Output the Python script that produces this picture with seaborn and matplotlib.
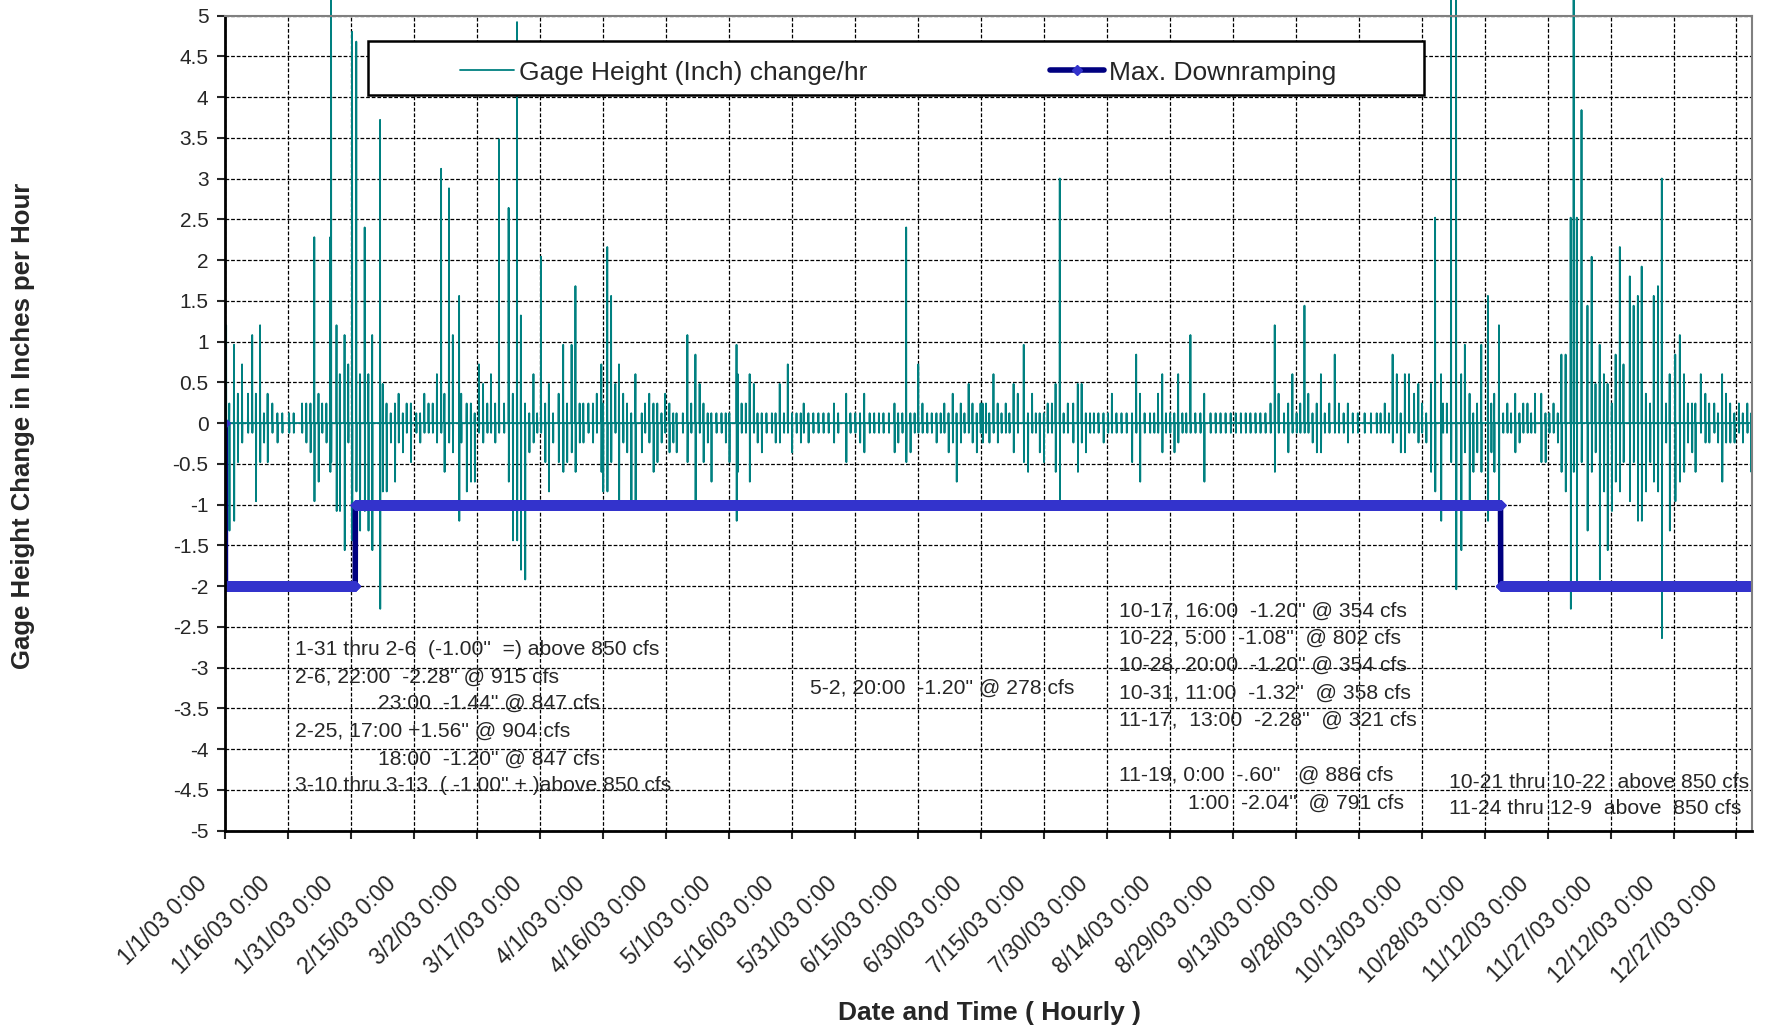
import numpy as np
import pandas as pd
import matplotlib
matplotlib.use("Agg")
import matplotlib.pyplot as plt
import matplotlib.transforms as mtransforms
from matplotlib.lines import Line2D
from matplotlib.patches import Rectangle
import seaborn as sns

# hourly record starting 1/1/03 0:00 (flat 0 between the spikes)
n_hours = 8730
start = pd.Timestamp("2003-01-01 00:00")

# spikes: day of year, rise and the drop that follows (inches/hr)
spike_day = [
    0.2, 0.96, 2.07, 3.0, 4.0, 5.4, 6.4, 7.3, 8.3, 9.2,
    10.1, 11.2, 12.4, 13.6, 15.2, 16.3, 18.3, 19.3, 20.3, 21.2,
    22.2, 23.1, 24.1, 25.0, 25.2, 26.5, 27.3, 28.4, 29.3, 30.2,
    31.2, 32.1, 33.2, 34.1, 35.0, 36.875, 37.5, 38.4, 39.4, 40.4,
    41.3, 42.3, 43.2, 44.2, 45.5, 46.4, 47.4, 48.4, 49.4, 50.4,
    51.4, 52.2, 53.3, 54.2, 55.7, 56.2, 57.5, 58.5, 59.4, 60.4,
    61.4, 62.4, 63.3, 64.3, 65.2, 66.4, 67.5, 68.5, 69.5, 70.4,
    71.4, 72.4, 73.4, 74.3, 75.2, 76.2, 77.1, 78.1, 79.4, 80.5,
    81.4, 82.5, 83.4, 84.4, 85.3, 86.5, 87.6, 88.5, 89.6,
    90.0, 91.0, 91.9, 92.9, 93.8, 94.8, 95.7, 96.7, 97.7, 99.2,
    100.0, 101.0, 102.0, 102.9, 103.9, 104.8, 105.8, 106.7, 107.5, 109.0,
    110.1, 111.0, 112.0, 113.0, 113.9, 114.9, 115.8, 117.0, 118.2, 119.2,
    120.1, 121.79, 122.1, 123.0, 124.0, 124.9, 125.9, 126.8, 127.8, 128.9,
    130.2, 131.1, 132.1, 133.1, 134.0, 135.0, 136.1, 137.1, 137.8, 138.9,
    140.1, 141.3, 142.5, 143.7, 145.0, 146.0, 147.9, 148.9, 150.1, 151.2,
    152.2, 153.5, 154.6, 155.7, 156.8, 158.1, 159.4, 160.3, 161.3, 162.2,
    163.2, 164.2, 165.1, 166.1, 167.2, 168.3, 169.4, 170.4, 171.3, 172.3,
    173.3, 174.2, 175.2, 176.1, 177.1, 178.0, 179.0, 179.9,
    180.4, 181.2, 182.0, 183.0, 184.0, 184.9, 185.9, 186.8, 187.8, 188.8,
    190.2, 191.2, 192.2, 193.1, 194.0, 195.0, 195.9, 196.9, 197.8, 198.8,
    199.7, 200.7, 202.0, 203.1, 204.0, 205.0, 206.0, 206.9, 208.0, 209.2,
    210.3, 211.2, 212.3, 213.5, 214.7, 216.0, 217.0, 217.9, 219.0, 220.3,
    221.3, 222.2, 223.2, 224.1, 225.1, 226.1, 227.0, 228.0, 228.9, 229.9,
    231.1, 232.3, 233.2, 234.7, 235.9, 237.1, 238.3, 239.5, 240.7, 241.9,
    243.1, 244.2, 245.4, 246.6, 247.8, 249.0, 250.0, 250.9, 252.2, 253.2,
    254.2, 255.2, 256.1, 257.1, 258.0, 259.0, 260.0, 261.0, 261.9, 263.0,
    264.3, 265.3, 266.4, 267.4, 268.6, 269.8, 271.4,
    272.9, 274.3, 275.2, 276.2, 277.2, 278.1, 279.1, 280.0, 281.0, 282.0,
    283.2, 284.2, 285.1, 286.1, 287.2, 288.2, 289.63, 290.1, 291.0, 292.0,
    293.2, 294.4, 295.3, 296.4, 297.3, 298.2, 299.2, 300.79, 301.6, 302.3,
    303.42, 304.4, 305.4, 306.3, 307.3, 308.3, 309.2, 310.2, 311.1, 312.0,
    313.5, 314.5, 315.4, 316.4, 317.4, 318.3, 319.3, 320.5, 321.2, 321.96,
    323.1, 324.5, 325.5, 326.4, 327.4, 328.4, 329.3, 330.3, 331.2, 332.2,
    333.1, 334.6, 335.5, 336.5, 337.4, 338.4, 339.4, 340.3, 341.3, 342.2,
    343.2, 344.1, 345.4, 346.5, 347.5, 348.4, 349.4, 350.2, 351.5, 352.6,
    353.5, 354.7, 355.6, 356.6, 357.5, 358.5, 359.5, 360.6, 361.5, 362.6,
    363.5,
]
spike_up = [
    1.2, 0.24, 0.96, 0.36, 0.72, 0.36, 1.08, 0.36, 1.2, 0.12,
    0.36, 0.24, 0.12, 0.12, 0.12, 0.12, 0.24, 0.24, 0.24, 2.28,
    0.36, 0.24, 0.24, 2.28, 5.4, 1.2, 0.6, 1.08, 0.72, 4.8,
    4.68, 0.6, 2.4, 0.6, 1.08, 3.72, 0.48, 0.24, 0.12, 0.24,
    0.36, 0.12, 0.24, 0.24, 0.12, 0.12, 0.36, 0.24, 0.24, 0.6,
    3.12, 0.36, 2.88, 1.08, 1.56, 0.36, 0.24, 0.24, 0.12, 0.72,
    0.48, 0.24, 0.6, 0.24, 3.48, 0.24, 2.64, 0.36, 4.92, 1.32,
    0.24, 0.12, 0.6, 0.12, 2.04, 0.24, 0.48, 0.12, 0.36, 0.96,
    0.24, 0.96, 1.68, 0.24, 0.24, 0.24, 0.24, 0.36, 0.72,
    0.24, 2.16, 1.56, 0.48, 0.72, 0.36, 0.24, 0.12, 0.6, 0.12,
    0.24, 0.36, 0.24, 0.24, 0.12, 0.36, 0.24, 0.12, 0.12, 0.12,
    1.08, 0.24, 0.84, 0.48, 0.24, 0.12, 0.12, 0.12, 0.12, 0.12,
    0.12, 0.96, 0.6, 0.24, 0.24, 0.6, 0.48, 0.12, 0.12, 0.12,
    0.12, 0.12, 0.48, 0.12, 0.72, 0.12, 0.12, 0.12, 0.24, 0.12,
    0.12, 0.12, 0.12, 0.12, 0.24, 0.12, 0.36, 0.12, 0.12, 0.12,
    0.36, 0.12, 0.12, 0.12, 0.12, 0.12, 0.24, 0.12, 0.12, 2.4,
    0.12, 0.12, 0.72, 0.24, 0.12, 0.12, 0.12, 0.12, 0.24, 0.12,
    0.36, 0.12, 0.24, 0.12, 0.48, 0.24, 0.12, 0.24,
    0.24, 0.24, 0.12, 0.6, 0.24, 0.12, 0.24, 0.12, 0.48, 0.36,
    0.96, 0.12, 0.36, 0.12, 0.12, 0.12, 0.24, 0.24, 0.48, 3.0,
    0.12, 0.24, 0.24, 0.48, 0.48, 0.12, 0.12, 0.12, 0.12, 0.12,
    0.12, 0.36, 0.12, 0.12, 0.12, 0.12, 0.84, 0.36, 0.12, 0.12,
    0.12, 0.36, 0.6, 0.12, 0.12, 0.12, 0.6, 0.12, 0.12, 1.08,
    0.12, 0.12, 0.36, 0.12, 0.12, 0.12, 0.12, 0.12, 0.12, 0.12,
    0.12, 0.12, 0.12, 0.12, 0.12, 0.24, 1.2, 0.36, 0.12, 0.24,
    0.6, 0.12, 0.24, 1.44, 0.36, 0.12, 0.24, 0.6, 0.12, 0.24,
    0.84, 0.24, 0.12, 0.24, 0.12, 0.12, 0.12,
    0.12, 0.12, 0.12, 0.24, 0.12, 0.84, 0.6, 0.12, 0.6, 0.6,
    0.36, 0.48, 0.24, 0.12, 0.48, 2.52, 0.6, 0.24, 0.24, 5.4,
    5.4, 0.6, 0.96, 0.36, 0.12, 0.24, 0.96, 1.56, 0.24, 0.36,
    1.2, 0.12, 0.24, 0.12, 0.36, 0.12, 0.24, 0.24, 0.12, 0.36,
    0.36, 0.12, 0.12, 0.24, 0.12, 0.84, 0.84, 2.52, 5.4, 2.52,
    3.84, 1.44, 2.04, 0.48, 0.96, 0.6, 0.48, 0.24, 0.84, 2.16,
    0.72, 1.8, 1.44, 1.56, 1.92, 0.36, 0.24, 1.56, 1.68, 3.0,
    0.24, 0.6, 0.84, 1.08, 0.6, 0.24, 0.24, 0.24, 0.6, 0.36,
    0.24, 0.24, 0.12, 0.6, 0.36, 0.24, 0.12, 0.24, 0.12, 0.24,
    0.12,
]
spike_down = [
    -0.36, -1.32, -1.2, -0.48, -0.24, -0.12, -0.12, -0.96, -0.48, -0.24,
    -0.48, -0.12, -0.24, -0.12, -0.12, -0.12, -0.12, -0.24, -0.36, -0.96,
    -0.72, -0.12, -0.24, -0.6, -0.48, -1.08, -1.08, -1.56, -0.24, -1.44,
    -0.84, -1.32, -1.08, -1.32, -1.56, -2.28, -0.84, -0.84, -0.24, -0.72,
    -0.24, -0.36, -0.12, -0.48, -0.12, -0.24, -0.12, -0.12, -0.12, -0.24,
    -0.12, -0.6, -0.24, -0.36, -1.2, -0.24, -0.84, -0.72, -0.72, -0.12,
    -0.24, -0.12, -0.12, -0.24, -0.12, -0.12, -0.72, -1.44, -1.44, -1.8,
    -1.92, -0.36, -0.24, -0.12, -0.12, -0.48, -0.84, -0.24, -0.48, -0.6,
    -0.48, -0.36, -0.6, -0.24, -0.24, -0.12, -0.24, -0.12, -0.6,
    -0.84, -0.84, -0.48, -0.12, -0.96, -0.24, -0.36, -0.96, -0.96, -0.36,
    -0.12, -0.24, -0.6, -0.48, -0.24, -0.12, -0.36, -0.24, -0.36, -0.12,
    -0.48, -0.12, -0.96, -0.12, -0.48, -0.24, -0.72, -0.12, -0.12, -0.24,
    -0.48, -1.2, -0.6, -0.12, -0.12, -0.72, -0.12, -0.24, -0.36, -0.12,
    -0.12, -0.24, -0.24, -0.12, -0.12, -0.36, -0.12, -0.24, -0.12, -0.24,
    -0.12, -0.12, -0.12, -0.12, -0.24, -0.12, -0.48, -0.12, -0.12, -0.24,
    -0.36, -0.12, -0.12, -0.12, -0.12, -0.12, -0.36, -0.24, -0.12, -0.48,
    -0.36, -0.12, -0.12, -0.12, -0.12, -0.12, -0.24, -0.12, -0.12, -0.36,
    -0.24, -0.72, -0.24, -0.12, -0.12, -0.24, -0.36, -0.12,
    -0.24, -0.12, -0.24, -0.12, -0.24, -0.12, -0.12, -0.12, -0.36, -0.12,
    -0.48, -0.6, -0.12, -0.12, -0.36, -0.48, -0.12, -0.12, -0.6, -0.96,
    -0.12, -0.12, -0.24, -0.6, -0.24, -0.36, -0.12, -0.12, -0.12, -0.24,
    -0.12, -0.12, -0.12, -0.12, -0.12, -0.48, -0.12, -0.72, -0.12, -0.12,
    -0.12, -0.12, -0.36, -0.12, -0.12, -0.36, -0.24, -0.12, -0.12, -0.12,
    -0.12, -0.12, -0.72, -0.12, -0.12, -0.12, -0.12, -0.12, -0.12, -0.12,
    -0.12, -0.12, -0.12, -0.12, -0.12, -0.12, -0.6, -0.12, -0.12, -0.36,
    -0.12, -0.12, -0.12, -0.12, -0.12, -0.24, -0.36, -0.36, -0.12, -0.12,
    -0.12, -0.12, -0.12, -0.24, -0.12, -0.12, -0.12,
    -0.12, -0.12, -0.12, -0.12, -0.12, -0.24, -0.12, -0.36, -0.36, -0.12,
    -0.12, -0.24, -0.12, -0.24, -0.6, -0.84, -1.2, -0.12, -0.12, -0.48,
    -2.04, -1.56, -0.36, -0.96, -0.6, -0.36, -0.6, -1.2, -0.36, -0.6,
    -1.32, -0.12, -0.12, -0.12, -0.36, -0.24, -0.12, -0.12, -0.12, -0.12,
    -0.48, -0.48, -0.12, -0.12, -0.24, -0.6, -0.84, -2.28, -0.6, -2.04,
    -0.48, -1.32, -0.6, -0.36, -1.92, -0.84, -1.56, -1.08, -0.72, -0.84,
    -0.48, -0.96, -0.48, -1.2, -1.2, -0.84, -0.48, -0.72, -0.84, -2.64,
    -0.24, -1.32, -0.96, -0.72, -0.6, -0.24, -0.36, -0.6, -0.12, -0.24,
    -0.24, -0.12, -0.24, -0.72, -0.24, -0.24, -0.24, -0.12, -0.24, -0.12,
    -0.6,
]

# Max. downramping limit: step changes (day of year, inches/hr)
ramp_day = [0, 1 / 24, 31.0, 303.8]
ramp_level = [0, -2, -1, -2]

tick_days = list(range(0, 361, 15))
y_ticks = np.round(np.linspace(-5, 5, 21), 1)

# notes written on the chart
note_text = [
    '1-31 thru 2-6  (-1.00"  =) above 850 cfs',
    '2-6, 22:00  -2.28" @ 915 cfs',
    '23:00  -1.44" @ 847 cfs',
    '2-25, 17:00 +1.56" @ 904 cfs',
    '18:00  -1.20" @ 847 cfs',
    '3-10 thru 3-13  ( -1.00" + )above 850 cfs',
    '5-2, 20:00  -1.20" @ 278 cfs',
    '10-17, 16:00  -1.20" @ 354 cfs',
    '10-22, 5:00  -1.08"  @ 802 cfs',
    '10-28, 20:00  -1.20" @ 354 cfs',
    '10-31, 11:00  -1.32"  @ 358 cfs',
    '11-17,  13:00  -2.28"  @ 321 cfs',
    '11-19, 0:00  -.60"   @ 886 cfs',
    '1:00  -2.04"  @ 791 cfs',
    '10-21 thru 10-22  above 850 cfs',
    '11-24 thru 12-9  above  850 cfs',
]
note_day = [16.6, 16.6, 36.5, 16.6, 36.5, 16.6, 139.3,
            213.0, 213.0, 213.0, 213.0, 213.0, 213.0, 229.4, 291.5, 291.5]
note_val = [-2.78, -3.12, -3.44, -3.78, -4.12, -4.45, -3.26,
            -2.31, -2.64, -2.97, -3.31, -3.65, -4.32, -4.66, -4.41, -4.73]

# build the hourly frame
days = np.arange(n_hours) / 24
gage = np.zeros(n_hours)
for d, up, down in zip(spike_day, spike_up, spike_down):
    h = int(round(d * 24))
    gage[h] = up
    gage[h + 1] = down
ramp = np.array(ramp_level)[np.searchsorted(ramp_day, days, side="right") - 1]
df = pd.DataFrame({"day": days, "gage": gage, "ramp": ramp})

sns.set_style("white")
plt.rcParams["font.family"] = ["Liberation Sans", "DejaVu Sans"]

fig = plt.figure(figsize=(17.71, 10.29), dpi=100)
ax = fig.add_axes([0.1272, 0.1929, 0.8621, 0.792])

sns.lineplot(data=df, x="day", y="gage", ax=ax, color="#008080", lw=1.3,
             estimator=None, clip_on=False)
sns.lineplot(data=df, x="day", y="ramp", ax=ax, color="#000080", lw=4,
             marker="D", markersize=5, markerfacecolor="#3333CC",
             markeredgecolor="#3333CC", estimator=None)

ax.set_xlim(0, (n_hours - 1) / 24)
ax.set_ylim(-5, 5)
ax.set_xlabel("")
ax.set_ylabel("")

ax.set_yticks(y_ticks)
ax.set_yticklabels([f"{v:g}" for v in y_ticks])
tick_dates = [start + pd.Timedelta(days=d) for d in tick_days]
ax.set_xticks(tick_days)
ax.set_xticklabels([f"{t.month}/{t.day}/{t:%y} {t.hour}:{t:%M}" for t in tick_dates])

ax.tick_params(axis="y", length=6, width=1.5, direction="out", labelsize=15, pad=6, left=True)
ax.tick_params(axis="x", length=6, width=1.5, direction="out", labelsize=16.5, pad=24, bottom=True)
shift = mtransforms.ScaledTranslation(-30 / 100, 0, fig.dpi_scale_trans)
for lbl in ax.get_xticklabels():
    lbl.set_rotation(45)
    lbl.set_ha("right")
    lbl.set_va("top")
    lbl.set_rotation_mode("anchor")
    lbl.set_transform(lbl.get_transform() + shift)

ax.set_axisbelow(True)
ax.grid(True, color="black", linestyle=(0, (3, 1.5)), lw=0.9)
for side in ["left", "bottom"]:
    ax.spines[side].set_color("black")
    ax.spines[side].set_linewidth(2)
for side in ["top", "right"]:
    ax.spines[side].set_color("#808080")
    ax.spines[side].set_linewidth(1.5)

# legend box
ax.add_patch(Rectangle((0.0934, 0.9025), 0.6916, 0.0662, transform=ax.transAxes,
                       facecolor="white", edgecolor="black", lw=1.8, zorder=6))
handles = [
    Line2D([], [], color="#008080", lw=1.3),
    Line2D([], [], color="#000080", lw=4, marker="D", markersize=5,
           markerfacecolor="#3333CC", markeredgecolor="#3333CC"),
]
leg = ax.legend(handles, ["Gage Height (Inch) change/hr", "Max. Downramping"],
                loc="center left", bbox_to_anchor=(0.1536, 0.930), ncol=2,
                frameon=False, fontsize=19, handlelength=2.05, handletextpad=0.2,
                columnspacing=6.9, borderpad=0, borderaxespad=0)
leg.set_zorder(7)

for txt, d, v in zip(note_text, note_day, note_val):
    ax.text(d, v, txt, fontsize=15.2, ha="left", va="center", zorder=8)

fig.text(0.013, 0.586, "Gage Height Change in Inches per Hour", rotation=90,
         fontsize=18.5, fontweight="bold", ha="center", va="center")
fig.text(0.5587, 0.0155, "Date and Time ( Hourly )", fontsize=19,
         fontweight="bold", ha="center", va="center")

fig.savefig("out.png", dpi=100)
